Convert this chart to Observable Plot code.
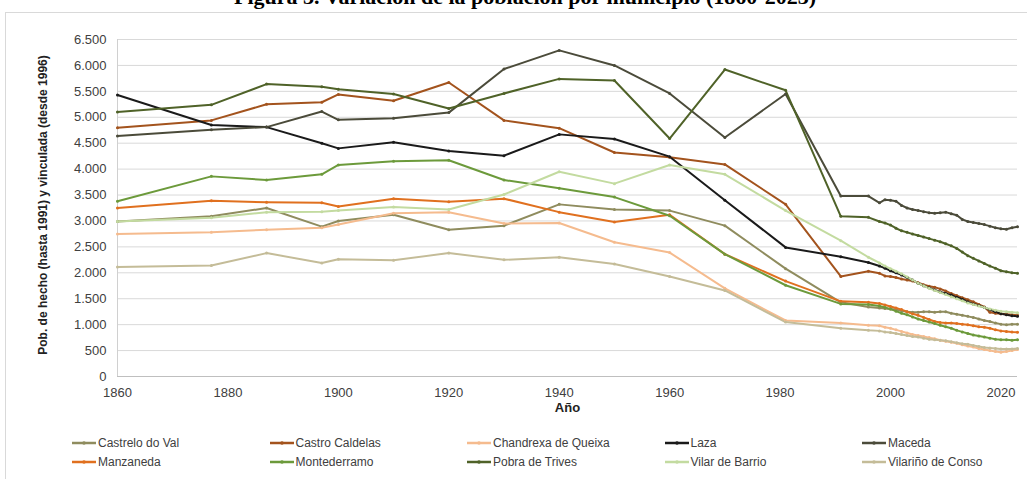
<!DOCTYPE html>
<html>
<head>
<meta charset="utf-8">
<script src="https://cdn.jsdelivr.net/npm/d3@7"></script>
<script src="https://cdn.jsdelivr.net/npm/@observablehq/plot@0.6"></script>
<style>
  html, body { margin:0; padding:0; background:#fff; width:1027px; height:479px; overflow:hidden; position:relative; }
  #title { position:absolute; left:0; top:-14px; width:1050px; text-align:center; font-family:"Liberation Serif", "DejaVu Serif", serif; font-weight:bold; font-size:22px; line-height:22px; color:#000; white-space:nowrap; }
  #box { position:absolute; left:5px; top:12px; width:1040px; height:480px; border-left:1px solid #d9d9d9; border-top:1px solid #d9d9d9; }
  #chart { position:absolute; left:0; top:0; }
  #legend { position:absolute; left:0; top:434px; width:1027px; font-family:"Liberation Sans", Arial, sans-serif; font-size:12px; color:#404040; }
  .item { position:absolute; display:flex; align-items:center; white-space:nowrap; height:18px; }
  .item svg { margin-right:2px; }
</style>
</head>
<body>
<div id="title">Figura 3. Variación de la población por municipio (1860-2023)</div>
<div id="box"></div>
<div id="chart"></div>
<div id="legend"></div>
<script>
// ---- Data ----
const years = [1860,1877,1887,1897,1900,1910,1920,1930,1940,1950,1960,1970,1981,1991,1996,
  1998,1999,2000,2001,2002,2003,2004,2005,2006,2007,2008,2009,2010,2011,2012,2013,2014,2015,2016,2017,2018,2019,2020,2021,2022,2023];

const names = ["Castrelo do Val","Castro Caldelas","Chandrexa de Queixa","Laza","Maceda",
  "Manzaneda","Montederramo","Pobra de Trives","Vilar de Barrio","Vilariño de Conso"];

const castreloDoVal = [2990,3090,3250,2890,3000,3120,2830,2910,3320,3220,3200,2910,2080,1430,1340,
  1320,1310,1300,1290,1270,1250,1240,1240,1250,1250,1240,1250,1250,1220,1200,1180,1160,1140,1110,1080,1060,1030,1010,1000,1010,1010];
const castroCaldelas = [4800,4940,5250,5290,5440,5320,5670,4940,4790,4320,4230,4090,3320,1930,2030,
  1990,1940,1930,1910,1880,1860,1840,1810,1770,1740,1720,1690,1650,1600,1560,1520,1480,1440,1390,1340,1240,1220,1210,1200,1190,1180];
const chandrexaDeQueixa = [2750,2780,2830,2870,2930,3150,3170,2950,2960,2590,2390,1700,1080,1030,990,
  980,950,930,900,870,840,810,790,770,750,730,700,680,660,640,610,590,570,540,520,500,480,470,480,500,520];
const laza = [5430,4850,4810,4500,4400,4520,4350,4260,4670,4580,4240,3400,2490,2310,2200,
  2130,2090,2040,2000,1960,1910,1860,1800,1750,1710,1670,1630,1600,1570,1530,1490,1440,1400,1370,1330,1290,1250,1210,1190,1170,1160];
const maceda = [4640,4760,4810,5110,4950,4980,5090,5930,6290,6000,5460,4610,5450,3480,3480,
  3350,3410,3400,3380,3300,3250,3220,3200,3180,3160,3150,3160,3170,3140,3110,3030,2990,2970,2950,2930,2900,2870,2850,2840,2870,2890];
const manzaneda = [3250,3390,3360,3350,3280,3430,3370,3430,3170,2980,3120,2360,1840,1450,1430,
  1410,1380,1350,1320,1290,1250,1210,1180,1140,1100,1060,1040,1030,1030,1020,1010,1000,980,960,950,930,900,880,870,860,855];
const montederramo = [3380,3860,3790,3900,4080,4150,4170,3790,3630,3460,3100,2360,1760,1400,1390,
  1360,1330,1300,1260,1220,1190,1150,1110,1080,1050,1020,990,960,930,890,860,830,800,780,760,740,720,710,710,700,710];
const pobraDeTrives = [5100,5240,5640,5590,5540,5450,5170,5460,5740,5710,4590,5920,5520,3090,3070,
  2990,2960,2920,2860,2810,2780,2750,2720,2690,2660,2630,2600,2560,2520,2470,2400,2330,2280,2230,2180,2130,2090,2040,2020,2000,1990];
const vilarDeBarrio = [2990,3060,3170,3180,3200,3270,3220,3510,3950,3720,4080,3900,3200,2620,2300,
  2190,2130,2080,2030,1980,1920,1860,1800,1750,1700,1660,1620,1580,1540,1500,1460,1420,1390,1360,1330,1300,1280,1260,1250,1240,1230];
const vilarinoDeConso = [2110,2140,2380,2190,2260,2240,2380,2250,2300,2170,1930,1660,1050,930,890,
  880,860,850,830,810,790,770,760,740,720,710,700,690,670,650,630,620,600,580,560,550,540,530,530,530,540];

const series = [castreloDoVal, castroCaldelas, chandrexaDeQueixa, laza, maceda,
  manzaneda, montederramo, pobraDeTrives, vilarDeBarrio, vilarinoDeConso];

const yTicks = [0,500,1000,1500,2000,2500,3000,3500,4000,4500,5000,5500,6000,6500];
const xTicks = [1860,1880,1900,1920,1940,1960,1980,2000,2020];

const yLabel = "Pob. de hecho (hasta 1991) y vinculada (desde 1996)";
const xLabel = "Año";

// ---- Styles ----
const colors = ["#8f8c5e","#a3531d","#f5bb8e","#1a1a1a","#4b4b3a",
  "#e0701f","#6c9a3b","#4f6228","#c3dba0","#c4bc98"];

// ---- Build table ----
const data = [];
names.forEach((n, i) => series[i].forEach((v, j) => data.push({name:n, year:years[j], value:v})));

const fmt = d => d3.format(",")(d).replace(/,/g, ".");

const chart = Plot.plot({
  width: 1027,
  height: 420,
  marginLeft: 117,
  marginRight: 10,
  marginTop: 39,
  marginBottom: 44,
  style: {fontFamily: "'Liberation Sans', Arial, sans-serif", fontSize: "13px", color: "#404040", background: "transparent", overflow: "visible"},
  x: {domain: [1860, 2023]},
  y: {domain: [0, 6500]},
  color: {domain: names, range: colors},
  marks: [
    Plot.gridY({ticks: yTicks.filter(d => d > 0), stroke: "#d9d9d9", strokeOpacity: 1, strokeWidth: 1}),
    Plot.ruleY([0], {stroke: "#bfbfbf", strokeWidth: 1.2}),
    Plot.ruleX([1860], {stroke: "#d0d0d0", strokeWidth: 1}),
    Plot.axisY({ticks: yTicks, tickSize: 0, tickPadding: 11, tickFormat: fmt, label: null, fill: "#404040"}),
    Plot.axisX({ticks: xTicks, tickSize: 0, tickPadding: 11, tickFormat: d => String(d), label: null, fill: "#404040"}),
    Plot.line(data, {x: "year", y: "value", z: "name", stroke: "name", strokeWidth: 2}),
    Plot.dot(data, {x: "year", y: "value", fill: "name", r: 1.5}),
    Plot.text([xLabel], {frameAnchor: "bottom", dy: 35, fontWeight: "bold", fontSize: 13, fill: "#222"}),
    Plot.text([yLabel], {frameAnchor: "left", textAnchor: "middle", rotate: -90, dx: -74, dy: -3, fontWeight: "bold", fontSize: 12, fill: "#222"})
  ]
});
document.getElementById("chart").appendChild(chart);

// ---- Legend ----
const color = chart.scale("color");
const legend = document.getElementById("legend");
names.forEach((n, i) => {
  const col = i % 5, row = Math.floor(i / 5);
  const div = document.createElement("div");
  div.className = "item";
  div.style.left = (72 + col * 197.5) + "px";
  div.style.top = (row * 19) + "px";
  const c = color.range[color.domain.indexOf(n)];
  div.innerHTML = `<svg width="24" height="10"><line x1="0" y1="5" x2="24" y2="5" stroke="${c}" stroke-width="2.5"/><circle cx="12" cy="5" r="1.8" fill="${c}"/></svg><span>${n}</span>`;
  legend.appendChild(div);
});
</script>
</body>
</html>
